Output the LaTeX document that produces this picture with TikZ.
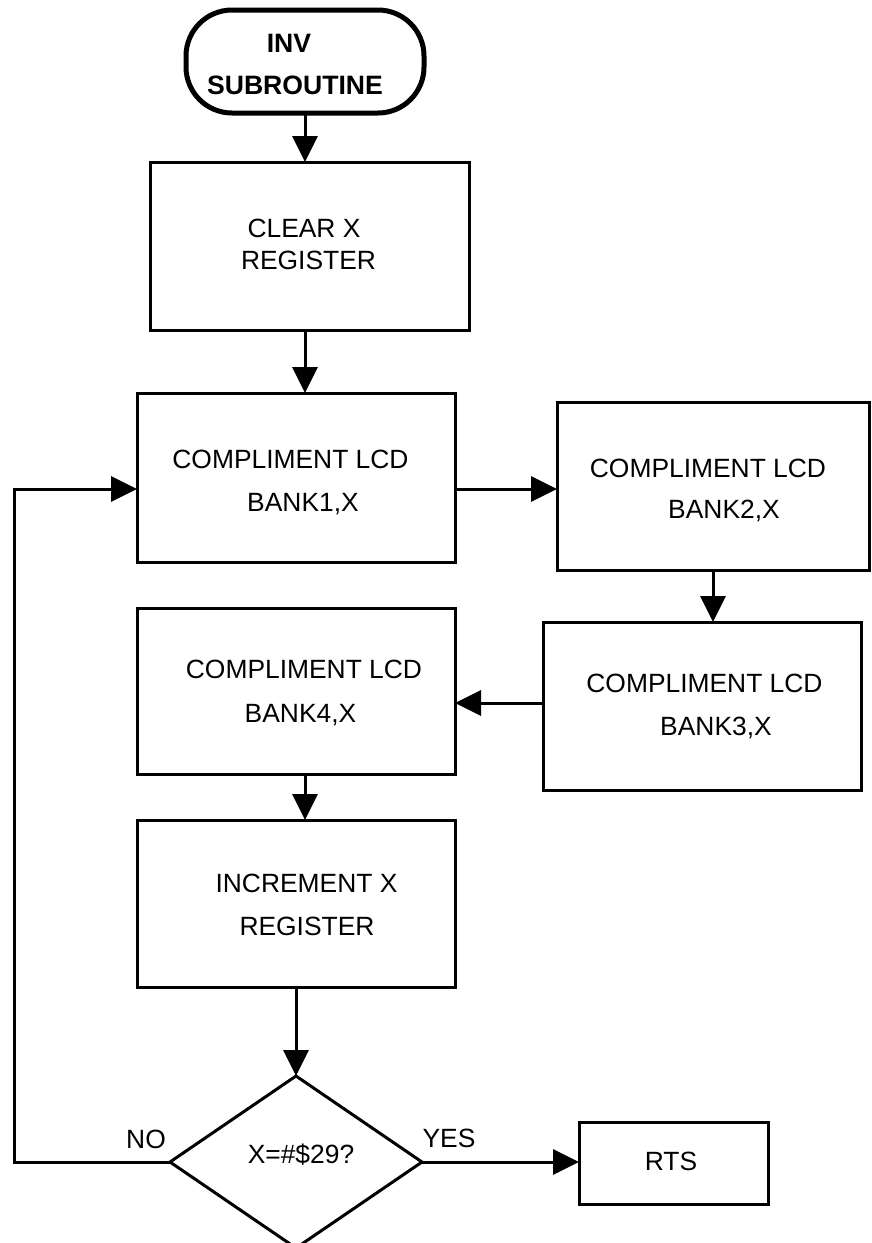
\documentclass[tikz,border=0pt]{standalone}
\usepackage{fontspec}
\setmainfont{Liberation Sans}
\usetikzlibrary{arrows.meta,shapes.geometric}
\begin{document}
\begin{tikzpicture}[x=1pt,y=-1pt,
  box/.style={draw, line width=3pt, rectangle, inner sep=0pt, outer sep=0pt},
  termbox/.style={draw, line width=5pt, rectangle, rounded corners=46pt, inner sep=0pt, outer sep=0pt},
  decision/.style={draw, line width=3pt, diamond, inner sep=0pt, outer sep=0pt},
  lbl/.style={anchor=base, inner sep=0pt, font=\fontsize{26.4}{30}\selectfont},
  blbl/.style={anchor=base, inner sep=0pt, font=\fontsize{26.6}{30}\selectfont\bfseries},
  flow/.style={line width=3pt, -{Triangle[length=26pt,width=25pt]}},
  wire/.style={line width=3pt}]
\useasboundingbox (0,0) rectangle (871,1243);

% start terminal
\node[termbox, minimum width=238pt, minimum height=103pt] (term) at (305,61.5) {};
\node[blbl] (termA) at (289,52) {INV};
\node[blbl] (termB) at (295,94) {SUBROUTINE};

% process boxes
\node[box, minimum width=319pt, minimum height=168pt] (b1) at (309.5,246) {};
\node[lbl] (b1A) at (304,237) {CLEAR X};
\node[lbl] (b1B) at (308.5,269) {REGISTER};

\node[box, minimum width=318pt, minimum height=169pt] (b2) at (296,477.5) {};
\node[lbl] (b2A) at (290.5,468) {COMPLIMENT LCD};
\node[lbl] (b2B) at (303,511) {BANK1,X};

\node[box, minimum width=312pt, minimum height=168pt] (b3) at (713,486) {};
\node[lbl] (b3A) at (708,477) {COMPLIMENT LCD};
\node[lbl] (b3B) at (724,518) {BANK2,X};

\node[box, minimum width=318pt, minimum height=168pt] (b4) at (702,706) {};
\node[lbl] (b4A) at (704.5,692) {COMPLIMENT LCD};
\node[lbl] (b4B) at (716,735) {BANK3,X};

\node[box, minimum width=318pt, minimum height=166pt] (b5) at (296,691) {};
\node[lbl] (b5A) at (304,678) {COMPLIMENT LCD};
\node[lbl] (b5B) at (300.5,722) {BANK4,X};

\node[box, minimum width=318pt, minimum height=167pt] (b6) at (296,903.5) {};
\node[lbl] (b6A) at (306.5,892) {INCREMENT X};
\node[lbl] (b6B) at (307,935) {REGISTER};

% decision
\node[decision, minimum width=252pt, minimum height=172pt] (dia) at (296,1162) {};
\node[lbl] (diaT) at (301,1163) {X=\#\$29?};
\node[lbl] (no) at (146,1148) {NO};
\node[lbl] (yes) at (449,1147) {YES};

% end box
\node[box, minimum width=189pt, minimum height=82pt] (rts) at (673.5,1163) {};
\node[lbl] (rtsT) at (671,1170) {RTS};

% helper rows and loop corner
\coordinate (rowA) at (0,489);
\coordinate (rowB) at (0,703);
\coordinate (loopc) at (14,1162);

% connectors
\draw[flow] (term.south) -- (term.south |- b1.north);
\draw[flow] (b1.south -| term.south) -- (b2.north -| term.south);
\draw[flow] (b2.east |- rowA) -- (b3.west |- rowA);
\draw[flow] (b3.south) -- (b3.south |- b4.north);
\draw[flow] (b4.west |- rowB) -- (b5.east |- rowB);
\draw[flow] (b5.south -| term.south) -- (b6.north -| term.south);
\draw[flow] (b6.south -| dia.north) -- (dia.north);
\draw[flow] (dia.east) -- (rts.west |- dia.east);
\draw[flow] (dia.west) -- (loopc) -- (loopc |- rowA) -- (b2.west |- rowA);
\end{tikzpicture}
\end{document}
